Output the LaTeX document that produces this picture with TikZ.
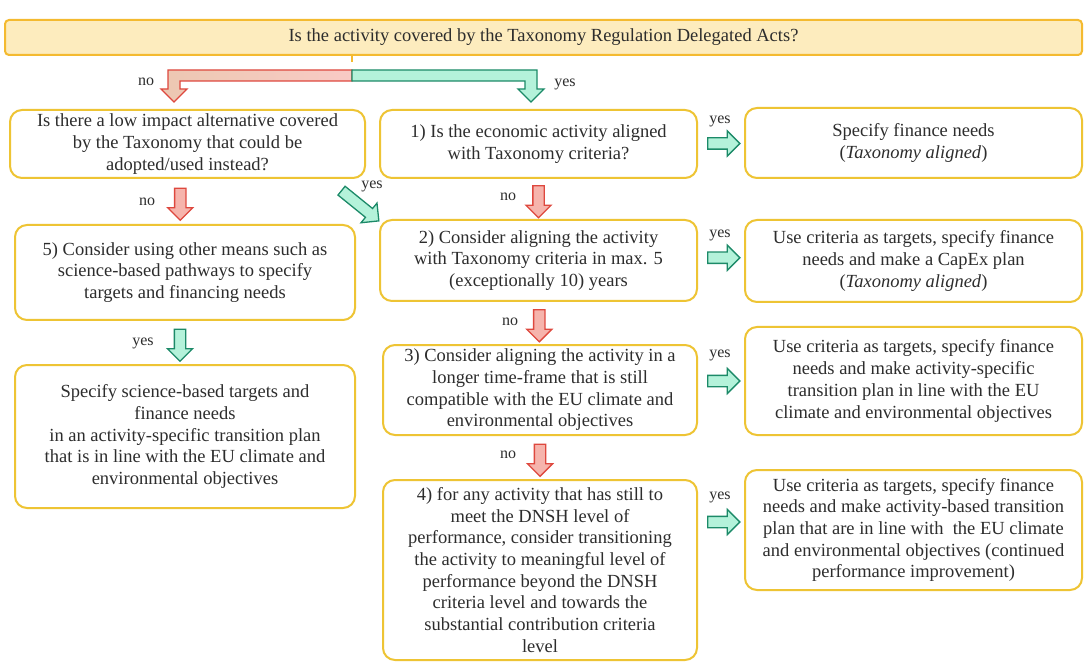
\documentclass[tikz,border=0pt]{standalone}
\usepackage{fontspec}
\setmainfont{Liberation Serif}
\usetikzlibrary{shapes.arrows,calc}
\definecolor{boxline}{RGB}{238,196,52}
\definecolor{topfill}{RGB}{253,236,190}
\definecolor{topline}{RGB}{244,186,48}
\definecolor{noline}{RGB}{222,72,62}
\definecolor{nofill}{RGB}{246,180,172}
\definecolor{nobar}{RGB}{236,200,178}
\definecolor{yesline}{RGB}{28,138,104}
\definecolor{yesfill}{RGB}{180,242,218}
\definecolor{txt}{RGB}{45,45,45}
\begin{document}
\begin{tikzpicture}[x=1pt,y=-1pt,
  box/.style={draw=boxline,line width=2pt,rounded corners=12pt,fill=white,align=center,
    text=txt,inner sep=0pt,font=\fontsize{18.5}{21.7}\selectfont},
  topbox/.style={box,draw=topline,fill=topfill,rounded corners=4pt},
  fat/.style={single arrow,minimum height=32pt,minimum width=24pt,
    single arrow head extend=7pt,inner sep=5pt,line width=1.3pt},
  noarrow/.style={fat,draw=noline,fill=nofill},
  yesarrow/.style={fat,draw=yesline,fill=yesfill},
  lbl/.style={text=txt,inner sep=1pt,font=\fontsize{16}{18}\selectfont}]
\useasboundingbox (0,0) rectangle (1087,668);
\fill[white] (0,0) rectangle (1087,668);

\node[topbox,minimum width=1077,minimum height=35] (top) at (543.5,37.5)
  {Is the activity covered by the Taxonomy Regulation Delegated Acts?};

% left column
\node[box,minimum width=355,minimum height=68] (altq) at (187.5,144)
  {Is there a low impact alternative covered\\by the Taxonomy that could be\\adopted/used instead?};
\node[box,minimum width=340,minimum height=95] (other) at (185,272.5)
  {5) Consider using other means such as\\science-based pathways to specify\\targets and financing needs};
\node[box,minimum width=340,minimum height=143] (sbt) at (185,436.5)
  {Specify science-based targets and\\finance needs\\in an activity-specific transition plan\\that is in line with the EU climate and\\environmental objectives};

% middle column
\node[box,minimum width=317,minimum height=68] (q1) at (538.5,144)
  {1) Is the economic activity aligned\\with Taxonomy criteria?};
\node[box,minimum width=317,minimum height=81] (q2) at (538.5,260.5)
  {2) Consider aligning the activity\\with Taxonomy criteria in max. 5\\(exceptionally 10) years};
\node[box,minimum width=314,minimum height=90] (q3) at (540,390)
  {3) Consider aligning the activity in a\\longer time-frame that is still\\compatible with the EU climate and\\environmental objectives};
\node[box,minimum width=314,minimum height=180] (q4) at (540,570)
  {4) for any activity that has still to\\meet the DNSH level of\\performance, consider transitioning\\the activity to meaningful level of\\performance beyond the DNSH\\criteria level and towards the\\substantial contribution criteria\\level};

% right column
\node[box,minimum width=337,minimum height=70] (r1) at (913.5,143)
  {Specify finance needs\\(\textit{Taxonomy aligned})};
\node[box,minimum width=337,minimum height=82] (r2) at (913.5,261)
  {Use criteria as targets, specify finance\\needs and make a CapEx plan\\(\textit{Taxonomy aligned})};
\node[box,minimum width=337,minimum height=108] (r3) at (913.5,381)
  {Use criteria as targets, specify finance\\needs and make activity-specific\\transition plan in line with the EU\\climate and environmental objectives};
\node[box,minimum width=337,minimum height=120] (r4) at (913.5,530)
  {Use criteria as targets, specify finance\\needs and make activity-based transition\\plan that are in line with\ \ the EU climate\\and environmental objectives (continued\\performance improvement)};

% fork below the question
\coordinate (fork) at (352,75);
\draw[topline,line width=2pt] (top.south -| fork) -- ++(0,6);
\draw[noline,line width=1.3pt,left color=nobar,right color=nofill!70]
  (352,70) -- (168,70) -- (168,89) -- (161,89) -- (174,102) -- (187,89)
  -- (180,89) -- (180,81) -- (352,81) -- cycle;
\draw[yesline,line width=1.3pt,fill=yesfill]
  (352,70) -- (537,70) -- (537,89) -- (544,89) -- (531,102) -- (518,89)
  -- (525,89) -- (525,81) -- (352,81) -- cycle;
\node[lbl] (ltopno) at (146,82) {no};
\node[lbl] (ltopyes) at (565,84) {yes};

% block arrows
\node[noarrow,rotate=-90] (a1) at ($(altq.south)!.5!(other.north)+(-6,0)$) {};
\node[yesarrow,rotate=-90] (a2) at ($(other.south)!.5!(sbt.north)+(-5,0)$) {};
\node[yesarrow,rotate=-39,minimum height=48pt] (a3) at (358,204) {};
\node[noarrow,rotate=-90] (a4) at ($(q1.south)!.5!(q2.north)$) {};
\node[noarrow,rotate=-90] (a5) at ($(q2.south)!.5!(q3.north)$) {};
\node[noarrow,rotate=-90] (a6) at ($(q3.south)!.5!(q4.north)$) {};
\node[yesarrow] (a7) at ($(q1.east)!.5!(r1.west)$) {};
\node[yesarrow] (a8) at ($(q2.east)!.5!(r2.west)+(0,-3)$) {};
\node[yesarrow] (a9) at ($(q3.east |- r3.west)!.5!(r3.west)$) {};
\node[yesarrow] (a10) at ($(q4.east |- r4.west)!.5!(r4.west)+(0,-8)$) {};

\node[lbl] (l1) at (147,202) {no};
\node[lbl] (l2) at (143,343) {yes};
\node[lbl] (l3) at (372,186) {yes};
\node[lbl] (l4) at (508,197) {no};
\node[lbl] (l5) at (510,322) {no};
\node[lbl] (l6) at (508,455) {no};
\node[lbl] (l7) at (720,121) {yes};
\node[lbl] (l8) at (720,235) {yes};
\node[lbl] (l9) at (720,355) {yes};
\node[lbl] (l10) at (720,497) {yes};
\end{tikzpicture}
\end{document}
